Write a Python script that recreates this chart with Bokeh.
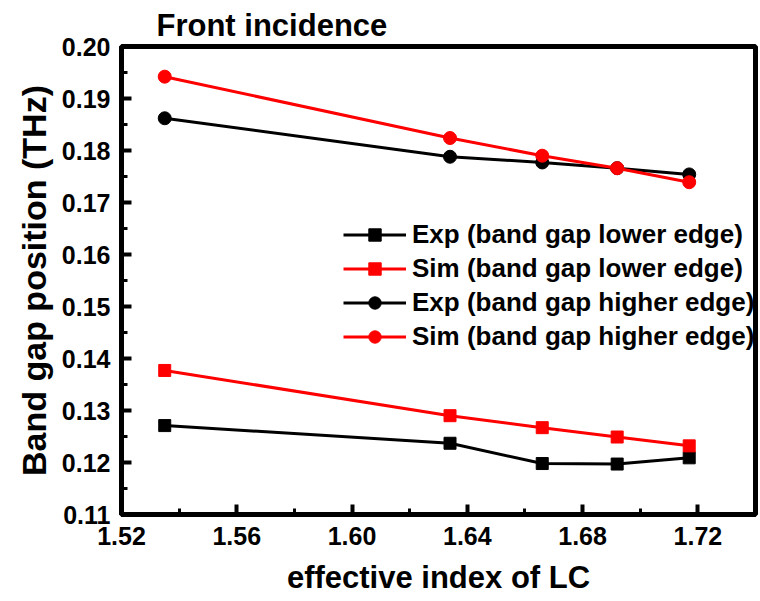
from bokeh.plotting import figure
from bokeh.models import FixedTicker, NumeralTickFormatter, Legend, LegendItem, Range1d
from bokeh.embed import file_html
from bokeh.resources import INLINE

# ---- data ----
n_eff = [1.535, 1.634, 1.666, 1.692, 1.717]
exp_lower = [0.1271, 0.1237, 0.1198, 0.1197, 0.1209]
sim_lower = [0.1377, 0.1290, 0.1267, 0.1249, 0.1232]
exp_higher = [0.1862, 0.1788, 0.1777, 0.1766, 0.1754]
sim_higher = [0.1942, 0.1824, 0.1790, 0.1766, 0.1739]

x_ticks = [1.52, 1.56, 1.60, 1.64, 1.68, 1.72]
x_minor = [1.54, 1.58, 1.62, 1.66, 1.70, 1.74]
y_ticks = [0.11, 0.12, 0.13, 0.14, 0.15, 0.16, 0.17, 0.18, 0.19, 0.20]
y_minor = [0.115, 0.125, 0.135, 0.145, 0.155, 0.165, 0.175, 0.185, 0.195]

labels = ["Exp (band gap lower edge)", "Sim (band gap lower edge)",
          "Exp (band gap higher edge)", "Sim (band gap higher edge)"]

FONT = "Liberation Sans"

p = figure(width=760, height=601, output_backend="svg", toolbar_location=None,
           x_range=Range1d(1.52, 1.74), y_range=Range1d(0.11, 0.20),
           min_border_left=121, min_border_right=5, min_border_top=46, min_border_bottom=87,
           title="Front incidence")

p.title.text_font = FONT
p.title.text_font_size = "31px"
p.title.text_font_style = "bold"
p.title.text_color = "black"
p.title.align = "left"
p.title.offset = 35
p.title.standoff = 8

p.grid.visible = False
p.outline_line_color = "black"
p.outline_line_width = 5
p.background_fill_color = "white"
p.border_fill_color = "white"

for ax in (p.xaxis[0], p.yaxis[0]):
    ax.axis_line_width = 5
    ax.major_tick_line_width = 4
    ax.minor_tick_line_width = 3
    ax.major_tick_in = 10
    ax.major_tick_out = 0
    ax.minor_tick_in = 6
    ax.minor_tick_out = 0
    ax.major_label_text_font = FONT
    ax.major_label_text_font_size = "25px"
    ax.major_label_text_font_style = "bold"
    ax.major_label_text_color = "black"
    ax.axis_label_text_font = FONT
    ax.axis_label_text_font_style = "bold"
    ax.axis_label_text_color = "black"

p.xaxis[0].axis_label_text_font_size = "31px"
p.yaxis[0].axis_label_text_font_size = "34px"
p.xaxis[0].ticker = FixedTicker(ticks=x_ticks, minor_ticks=x_minor)
p.yaxis[0].ticker = FixedTicker(ticks=y_ticks, minor_ticks=y_minor)
p.xaxis[0].formatter = NumeralTickFormatter(format="0.00")
p.yaxis[0].formatter = NumeralTickFormatter(format="0.00")
p.xaxis[0].axis_label = "effective index of LC"
p.yaxis[0].axis_label = "Band gap position (THz)"
p.xaxis[0].major_label_standoff = 12
p.xaxis[0].axis_label_standoff = 12
p.yaxis[0].major_label_standoff = 11
p.yaxis[0].axis_label_standoff = 6

series = [
    (exp_lower, "black", "square"),
    (sim_lower, "red", "square"),
    (exp_higher, "black", "circle"),
    (sim_higher, "red", "circle"),
]
draw_order = [0, 2, 1, 3]
renderers = {}
for i in draw_order:
    ys, col, mk = series[i]
    ln = p.line(n_eff, ys, line_color=col, line_width=3)
    sc = p.scatter(n_eff, ys, marker=mk, size=12 if mk == "square" else 13,
                   fill_color=col, line_color=col)
    renderers[i] = [ln, sc]

legend = Legend(items=[LegendItem(label=labels[i], renderers=renderers[i]) for i in range(4)],
                location=(222, 162), border_line_color=None, background_fill_alpha=0,
                padding=0, margin=0, spacing=3, glyph_width=63, glyph_height=31,
                label_height=31, label_standoff=6,
                label_text_font=FONT, label_text_font_size="26px",
                label_text_font_style="bold", label_text_color="black")
p.add_layout(legend)

open("out.html", "w").write(file_html(p, INLINE))
